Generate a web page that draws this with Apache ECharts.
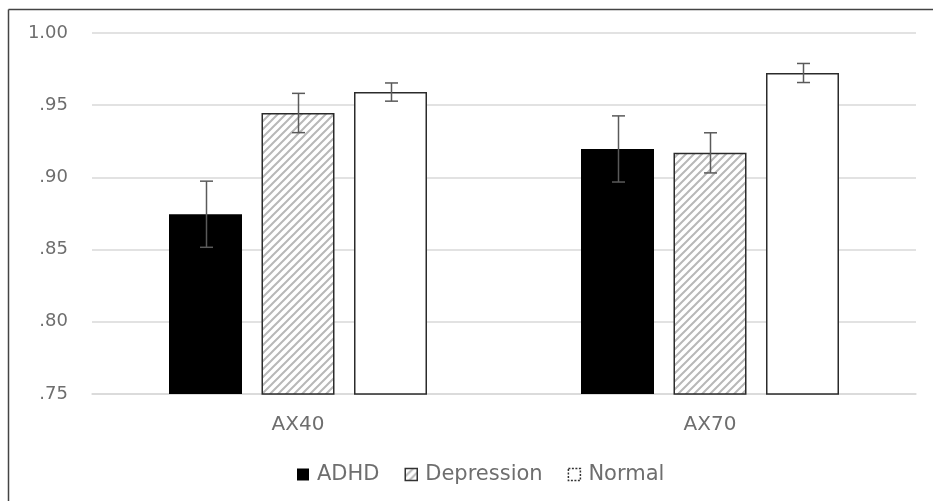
<!DOCTYPE html>
<html><head><meta charset="utf-8">
<script src="https://cdn.jsdelivr.net/npm/echarts@6/dist/echarts.min.js"></script>
<style>html,body{margin:0;padding:0;background:#fff;overflow:hidden}#c{width:933px;height:501px}</style>
</head><body><div id="c"></div>
<script>
const categories = ['AX40', 'AX70'];
const seriesNames = ['ADHD', 'Depression', 'Normal'];
const adhd = [0.8745, 0.9197];
const depression = [0.9446, 0.9170];
const normal = [0.9591, 0.9723];
const adhdErr = [0.0229, 0.0229];
const depressionErr = [0.0136, 0.0139];
const normalErr = [0.0063, 0.0066];
const yTicks = ['.75', '.80', '.85', '.90', '.95', '1.00'];

const values = [adhd, depression, normal];
const errs = [adhdErr, depressionErr, normalErr];

// hatch pattern
const pc = document.createElement('canvas');
pc.width = 8; pc.height = 8;
const g = pc.getContext('2d');
g.fillStyle = '#fff'; g.fillRect(0,0,8,8);
g.strokeStyle = '#b8b8b8'; g.lineWidth = 2;
g.beginPath();
g.moveTo(-2,10); g.lineTo(10,-2);
g.moveTo(-2,2); g.lineTo(2,-2);
g.moveTo(6,10); g.lineTo(10,6);
g.stroke();
const hatch = {image: pc, repeat: 'repeat'};

const font = "'DejaVu Sans', 'Noto Sans', sans-serif";
const txt = '#6e6e6e';
const BW = 73, GAP = 19.5;

const styles = [
  {color: '#000', borderColor: '#000', borderWidth: 0},
  {color: hatch, borderColor: '#2b2b2b', borderWidth: 1.5},
  {color: '#fff', borderColor: '#2b2b2b', borderWidth: 1.5}
];

const barSeries = seriesNames.map((n, i) => ({
  name: n, type: 'bar', data: values[i], barWidth: BW, barGap: (GAP / BW * 100) + '%',
  itemStyle: styles[i], z: 2, silent: true
}));

const errSeries = seriesNames.map((n, i) => ({
  type: 'custom', z: 5, silent: true,
  data: categories.map((c, j) => [j, values[i][j] - errs[i][j], values[i][j] + errs[i][j]]),
  renderItem: function (params, api) {
    const lo = api.coord([api.value(0), api.value(1)]);
    const hi = api.coord([api.value(0), api.value(2)]);
    const x = Math.round(lo[0] + (i - 1) * (BW + GAP)) + 0.5;
    const cw = 6.5;
    const st = {stroke: '#5a5a5a', lineWidth: 1.5};
    return {type: 'group', children: [
      {type: 'line', shape: {x1: x, y1: lo[1], x2: x, y2: hi[1]}, style: st},
      {type: 'line', shape: {x1: x - cw, y1: lo[1], x2: x + cw, y2: lo[1]}, style: st},
      {type: 'line', shape: {x1: x - cw, y1: hi[1], x2: x + cw, y2: hi[1]}, style: st}
    ]};
  }
}));

const chart = echarts.init(document.getElementById('c'), null, {renderer: 'canvas'});
chart.setOption({
  animation: false,
  backgroundColor: '#fff',
  graphic: [
    {type: 'line', shape: {x1: 8.5, y1: 9.5, x2: 933, y2: 9.5}, style: {stroke: '#444', lineWidth: 1.5}, z: 100},
    {type: 'line', shape: {x1: 8.5, y1: 9.5, x2: 8.5, y2: 501}, style: {stroke: '#444', lineWidth: 1.5}, z: 100}
  ],
  grid: {left: 92, right: 17, top: 33, bottom: 107},
  legend: {
    left: 292, top: 459, itemWidth: 12, itemHeight: 12, itemGap: 25,
    icon: 'rect',
    textStyle: {color: txt, fontSize: 21, fontFamily: font, padding: [0,0,0,3]},
    data: [
      {name: 'ADHD', itemStyle: {color: '#000', borderWidth: 0}},
      {name: 'Depression', itemStyle: {color: hatch, borderColor: '#333', borderWidth: 1.5}},
      {name: 'Normal', itemStyle: {color: '#fff', borderColor: '#333', borderWidth: 1.5, borderType: [2, 1.5]}}
    ]
  },
  xAxis: {
    type: 'category', data: categories,
    axisLine: {lineStyle: {color: '#d9d9d9', width: 1.5}},
    axisTick: {show: false},
    axisLabel: {color: txt, fontSize: 20, fontFamily: font, margin: 21}
  },
  yAxis: {
    type: 'value', min: 0.75, max: 1.0, interval: 0.05,
    axisLine: {show: false}, axisTick: {show: false},
    splitLine: {lineStyle: {color: '#d9d9d9', width: 1.5}},
    axisLabel: {color: txt, fontSize: 18, fontFamily: font, margin: 24,
      formatter: function (v) { return yTicks[Math.round((v - 0.75) / 0.05)]; }}
  },
  series: barSeries.concat(errSeries)
});
</script>
</body></html>
